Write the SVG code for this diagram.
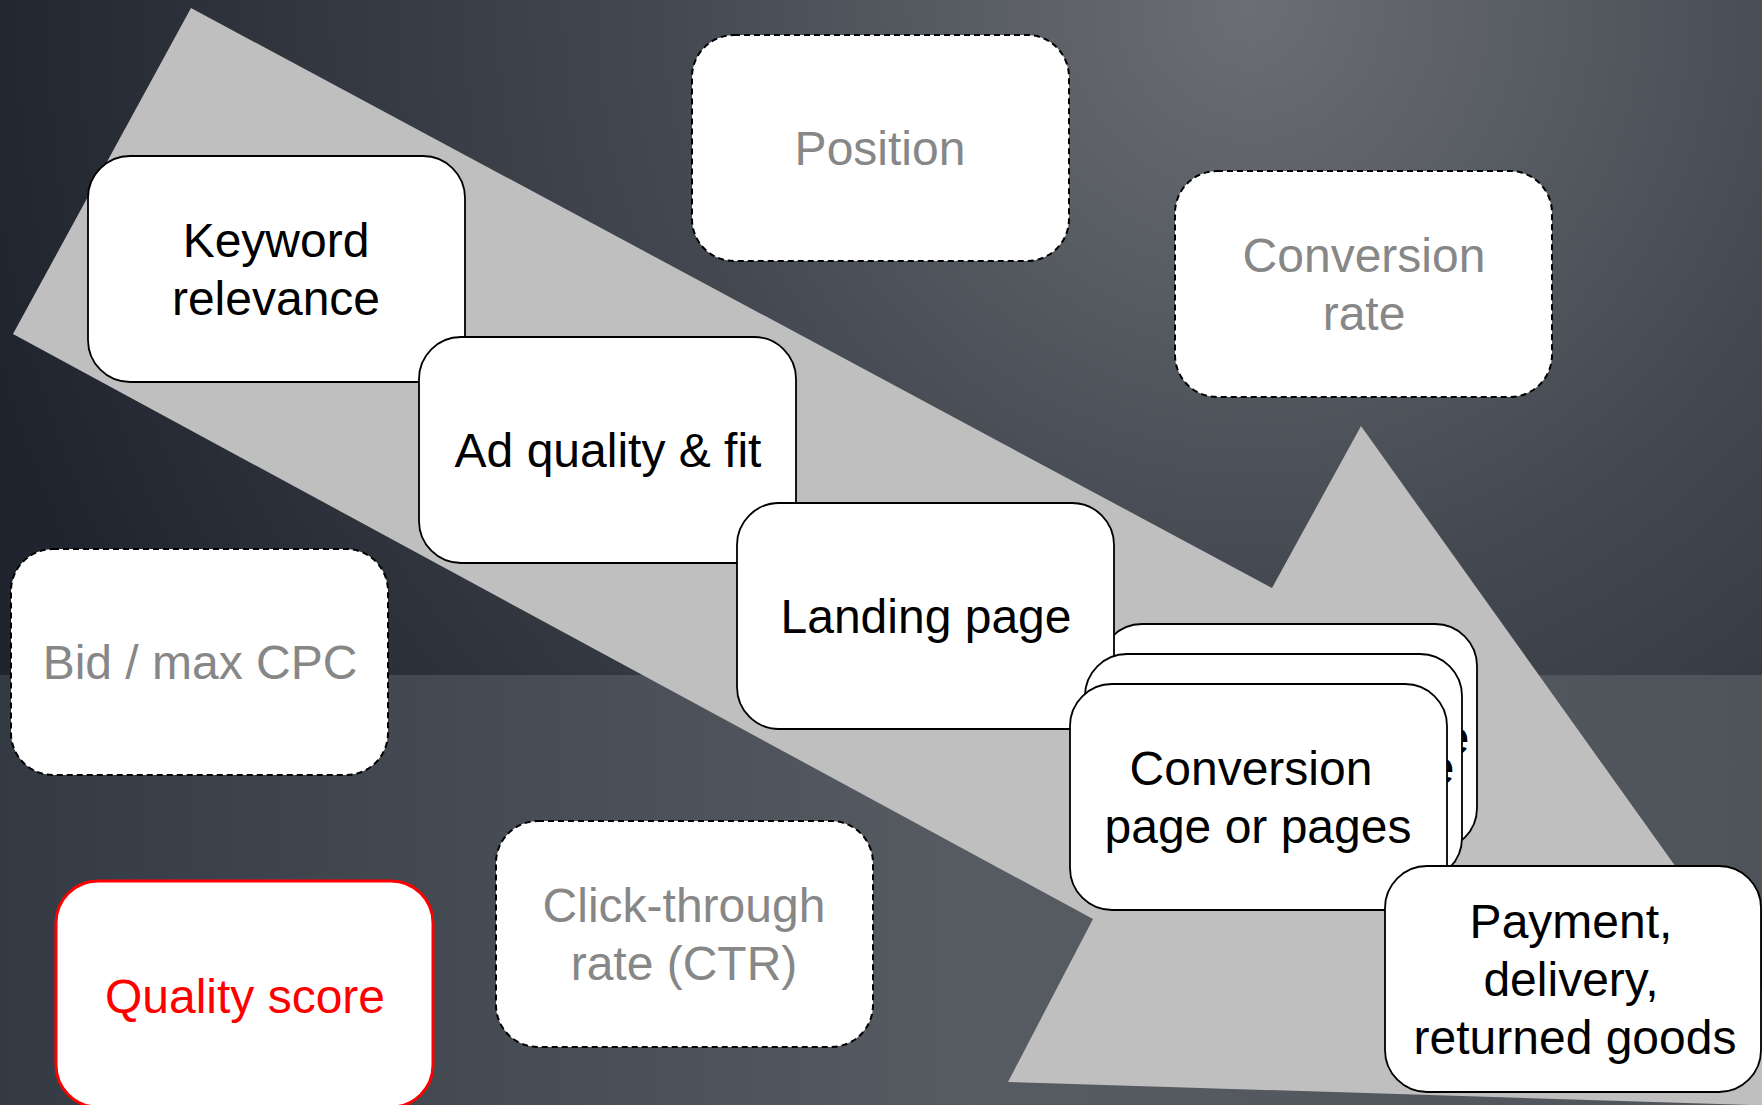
<svg xmlns="http://www.w3.org/2000/svg" width="1762" height="1105" viewBox="0 0 1762 1105">
  <defs>
    <radialGradient id="bgTop" gradientUnits="userSpaceOnUse" cx="1250" cy="10" r="1300">
      <stop offset="0" stop-color="#6b6e74"/>
      <stop offset="0.45" stop-color="#444951"/>
      <stop offset="1" stop-color="#1f242e"/>
    </radialGradient>
    <linearGradient id="bgBot" gradientUnits="userSpaceOnUse" x1="0" y1="0" x2="1762" y2="0">
      <stop offset="0" stop-color="#343a44"/>
      <stop offset="0.55" stop-color="#575c63"/>
      <stop offset="1" stop-color="#4f545b"/>
    </linearGradient>
    <style>
      .box { fill: #ffffff; stroke: #000000; stroke-width: 1.8; }
      .dash { fill: #ffffff; stroke: #000000; stroke-width: 2; stroke-dasharray: 6 4; }
      .red { fill: #ffffff; stroke: #ff0000; stroke-width: 3; }
      .t { font-family: "Liberation Sans", Arial, sans-serif; font-size: 48px; text-anchor: middle; fill: #000000; }
      .g { fill: #878787; }
      .r { fill: #ff0000; }
    </style>
  </defs>

  <rect x="0" y="0" width="1762" height="675" fill="url(#bgTop)"/>
  <rect x="0" y="675" width="1762" height="430" fill="url(#bgBot)"/>

  <g id="arrow">
    <polygon points="191,8 1272,588 1361,426 1848,1108 1008,1082 1093,919 13,334" fill="#bfbfbf"/>
  </g>

  <g id="connectors"></g>

  <g id="position">
    <rect class="dash" x="692" y="35" width="377" height="226" rx="42"/>
    <text class="t g" x="880" y="165">Position</text>
  </g>

  <g id="conversion-rate">
    <rect class="dash" x="1175" y="171" width="377" height="226" rx="42"/>
    <text class="t g" x="1364" y="272">Conversion</text>
    <text class="t g" x="1364" y="330">rate</text>
  </g>

  <g id="bid">
    <rect class="dash" x="11" y="549" width="377" height="226" rx="42"/>
    <text class="t g" x="200" y="679">Bid / max CPC</text>
  </g>

  <g id="ctr">
    <rect class="dash" x="496" y="821" width="377" height="226" rx="42"/>
    <text class="t g" x="684" y="922">Click-through</text>
    <text class="t g" x="684" y="980">rate (CTR)</text>
  </g>

  <g id="quality-score">
    <rect class="red" x="56" y="881" width="377" height="226" rx="42"/>
    <text class="t r" x="245" y="1013">Quality score</text>
  </g>

  <g id="keyword">
    <rect class="box" x="88" y="156" width="377" height="226" rx="42"/>
    <text class="t" x="276" y="257">Keyword</text>
    <text class="t" x="276" y="315">relevance</text>
  </g>

  <g id="ad-quality">
    <rect class="box" x="419" y="337" width="377" height="226" rx="42"/>
    <text class="t" x="608" y="467">Ad quality &amp; fit</text>
  </g>

  <g id="conversion-page-3">
    <rect class="box" x="1100" y="624" width="377" height="226" rx="42"/>
    <text class="t" x="1288" y="754">Conversion page</text>
  </g>

  <g id="landing">
    <rect class="box" x="737" y="503" width="377" height="226" rx="42"/>
    <text class="t" x="926" y="633">Landing page</text>
  </g>

  <g id="conversion-page-2">
    <rect class="box" x="1085" y="654" width="377" height="226" rx="42"/>
    <text class="t" x="1273" y="784">Conversion page</text>
  </g>

  <g id="conversion-page-1">
    <rect class="box" x="1070" y="684" width="377" height="226" rx="42"/>
    <text class="t" x="1251" y="785">Conversion</text>
    <text class="t" x="1258" y="843">page or pages</text>
  </g>

  <g id="payment">
    <rect class="box" x="1385" y="866" width="376" height="226" rx="42"/>
    <text class="t" x="1571" y="938">Payment,</text>
    <text class="t" x="1571" y="996">delivery,</text>
    <text class="t" x="1575" y="1054">returned goods</text>
  </g>
</svg>
